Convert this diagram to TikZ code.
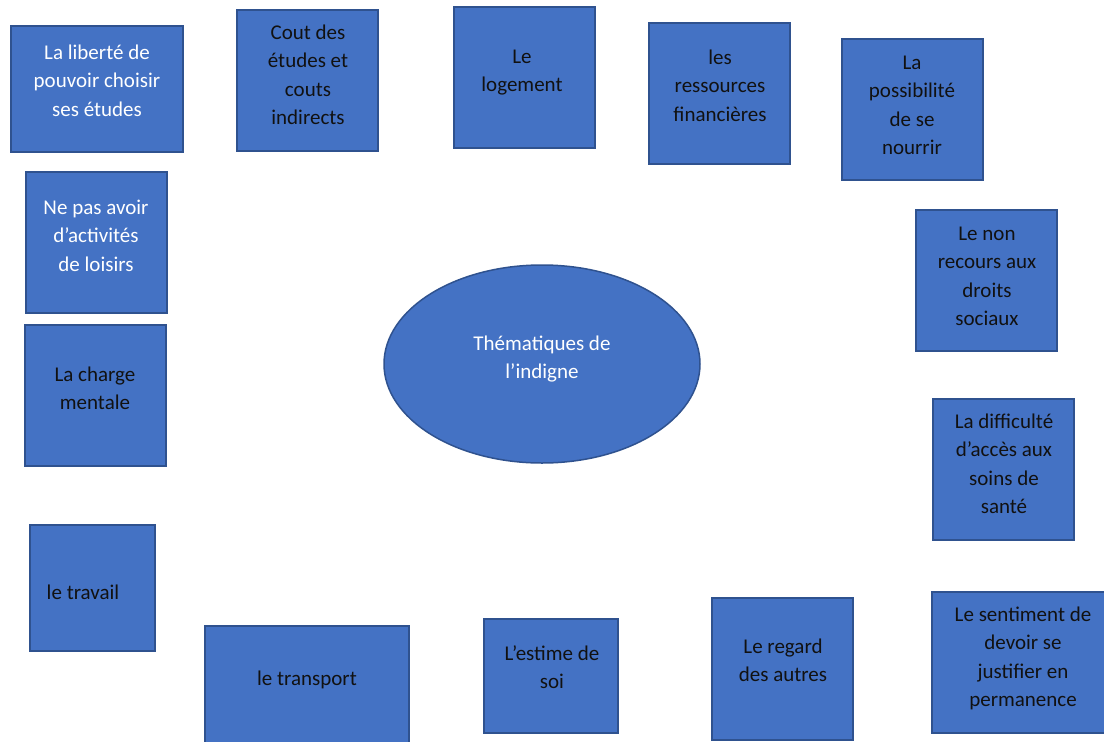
\documentclass[tikz,border=0pt]{standalone}
\usepackage{fontspec}
\setmainfont{Carlito}
\usetikzlibrary{shapes.geometric}
\definecolor{boxfill}{HTML}{4472C4}
\definecolor{boxline}{HTML}{2F528F}
\definecolor{darktext}{HTML}{111111}
\tikzset{
  box/.style={draw=boxline, fill=boxfill, line width=1.8pt, rectangle, inner sep=0pt},
  oval/.style={draw=boxline, fill=boxfill, line width=1.5pt, ellipse, inner sep=0pt, line join=round, line cap=round},
  txt/.style={align=center, anchor=base, inner sep=0pt, font=\fontsize{21}{28.5}\selectfont, text=darktext},
  wtxt/.style={txt, text=white}
}
\begin{document}
\begin{tikzpicture}[x=1pt,y=-1pt]
\useasboundingbox (0,0) rectangle (1104,742);
\clip (0,0) rectangle (1104,742);
% boxes (text y = baseline of the last line)
\node[box, minimum width=172pt, minimum height=126pt] (b1) at (97,89) {};
\node[wtxt] (t1) at (97,116) {La liberté de\\pouvoir choisir\\ses études};
\node[box, minimum width=141pt, minimum height=141pt] (b2) at (307.5,80.5) {};
\node[txt] (t2) at (308,124.5) {Cout des\\études et\\couts\\indirects};
\node[box, minimum width=141pt, minimum height=141pt] (b3) at (524.5,77.5) {};
\node[txt] (t3) at (522,91.5) {Le\\logement};
\node[box, minimum width=141pt, minimum height=141pt] (b4) at (719.5,93.5) {};
\node[txt] (t4) at (720,121) {les\\ressources\\financières};
\node[box, minimum width=141pt, minimum height=141pt] (b5) at (912.5,109.5) {};
\node[txt] (t5) at (912,154.5) {La\\possibilité\\de se\\nourrir};
\node[box, minimum width=141pt, minimum height=141pt] (b6) at (96.5,242.5) {};
\node[wtxt] (t6) at (96,271) {Ne pas avoir\\d’activités\\de loisirs};
\node[box, minimum width=141pt, minimum height=141pt] (b7) at (95.5,395.5) {};
\node[txt] (t7) at (95,409.5) {La charge\\mentale};
\node[box, minimum width=141pt, minimum height=141pt] (b8) at (986.5,280.5) {};
\node[txt] (t8) at (987,325.5) {Le non\\recours aux\\droits\\sociaux};
\node[box, minimum width=141pt, minimum height=141pt] (b9) at (1003.5,469.5) {};
\node[txt] (t9) at (1004,513.5) {La difficulté\\d’accès aux\\soins de\\santé};
\node[box, minimum width=125pt, minimum height=126pt] (b10) at (92.5,588) {};
\node[txt] (t10) at (83,599) {le travail};
\node[box, minimum width=204pt, minimum height=140pt] (b11) at (307,696) {};
\node[txt] (t11) at (307,685) {le transport};
\node[box, minimum width=134pt, minimum height=114pt] (b12) at (551,676) {};
\node[txt] (t12) at (552,688.5) {L’estime de\\soi};
\node[box, minimum width=141pt, minimum height=142pt] (b13) at (782.5,669) {};
\node[txt] (t13) at (783,681.5) {Le regard\\des autres};
\node[box, minimum width=180pt, minimum height=141pt] (b14) at (1022,662.5) {};
\node[txt] (t14) at (1023,706.5) {Le sentiment de\\devoir se\\justifier en\\permanence};
% central ellipse
\node[oval, minimum width=316pt, minimum height=198pt] (c) at (542,364) {};
\node[wtxt] (ct) at (542,378.5) {Thématiques de\\l’indigne};
\end{tikzpicture}
\end{document}
